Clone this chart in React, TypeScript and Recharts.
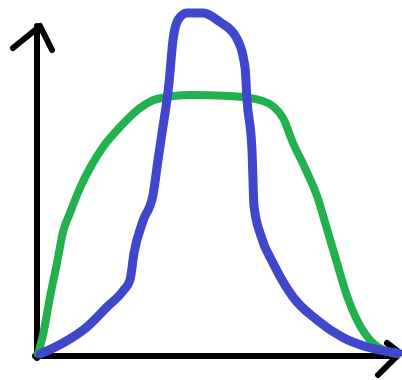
import { LineChart, Line, XAxis, YAxis } from 'recharts'

// hand-drawn sketch: two bell-ish curves on arrowed axes (units)
const greenX = [1, 6, 13, 20, 26, 33, 43, 53, 66, 83, 103, 120, 153, 193, 226, 246, 256, 268, 280, 290, 300, 310, 320, 333, 346, 361]
const greenY = [2, 21, 59, 93, 124, 143, 168, 188, 209, 229, 248, 257, 261, 260, 255, 238, 213, 188, 160, 127, 93, 60, 36, 16, 6, 2]

const blueX = [3, 26, 50, 70, 86, 93, 97, 106, 116, 121, 125, 132, 136, 141, 150, 166, 183, 199, 208, 210, 215, 217, 224, 236, 256, 280, 305, 330, 361]
const blueY = [2, 13, 29, 49, 65, 76, 103, 135, 161, 196, 223, 273, 316, 336, 343, 343, 334, 319, 289, 256, 206, 150, 120, 93, 59, 36, 19, 9, 3]

// axes and arrow heads
const yAxisLine = [{ x: 0, y: -2 }, { x: 0, y: 330 }]
const yArrow = [{ x: -24, y: 308 }, { x: 3, y: 330 }, { x: 15, y: 306 }]
const xAxisLine = [{ x: -2, y: 0 }, { x: 360, y: 0 }]
const xArrow = [{ x: 350, y: 13 }, { x: 363, y: 3 }, { x: 341, y: -19 }]

const green = greenX.map((x, i) => ({ x, y: greenY[i] }))
const blue = blueX.map((x, i) => ({ x, y: blueY[i] }))

const BLACK = '#000000'
const GREEN = '#22b14c'
const BLUE = '#3f48cc'

export default function App() {
  return (
    <div style={{ position: 'absolute', left: 0, top: 0, background: '#fff' }}>
      <LineChart width={402} height={380} margin={{ top: 0, right: 0, bottom: 0, left: 0 }}>
        <XAxis type="number" dataKey="x" domain={[-37, 365]} allowDataOverflow hide />
        <YAxis type="number" dataKey="y" domain={[-24, 356]} allowDataOverflow hide width={0} />
        {[yAxisLine, yArrow, xAxisLine, xArrow].map((d, i) => (
          <Line
            key={i}
            data={d}
            dataKey="y"
            type="linear"
            stroke={BLACK}
            strokeWidth={6}
            strokeLinecap="round"
            strokeLinejoin="round"
            dot={false}
            activeDot={false}
            isAnimationActive={false}
          />
        ))}
        <Line
          data={green}
          dataKey="y"
          type="monotone"
          stroke={GREEN}
          strokeWidth={8}
          strokeLinecap="round"
          strokeLinejoin="round"
          dot={false}
          activeDot={false}
          isAnimationActive={false}
        />
        <Line
          data={blue}
          dataKey="y"
          type="monotone"
          stroke={BLUE}
          strokeWidth={9}
          strokeLinecap="round"
          strokeLinejoin="round"
          dot={false}
          activeDot={false}
          isAnimationActive={false}
        />
      </LineChart>
    </div>
  )
}
